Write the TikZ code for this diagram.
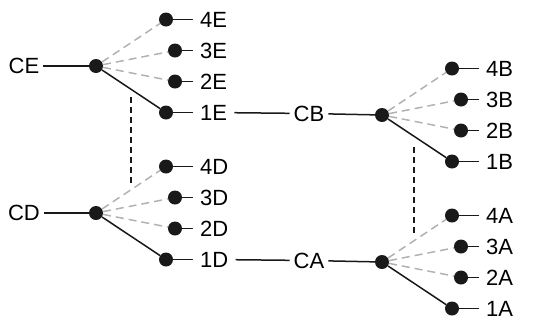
\documentclass[tikz,border=0pt]{standalone}
\usepackage{fontspec}
\setmainfont{Liberation Sans}

\begin{document}
\begin{tikzpicture}[x=1pt, y=-1pt,
    dot/.style={circle, fill=black!90, inner sep=0pt, minimum size=14pt},
    leaf/.style={anchor=west, inner xsep=7pt, inner ysep=1pt, font=\fontsize{22}{25}\selectfont},
    root/.style={inner xsep=4pt, inner ysep=1pt, font=\fontsize{22}{25}\selectfont},
    solid link/.style={black!90, line width=1.5pt},
    alt link/.style={black!30, line width=1.5pt, dash pattern=on 8pt off 5pt},
    pair link/.style={black!90, line width=1.1pt, dash pattern=on 6pt off 4pt}]
  \useasboundingbox (0,0) rectangle (539,325);

  % four fans: name/hub x/hub y
  \foreach \g/\hx/\hy in {E/96/66, D/96/213, B/382/115, A/382/262} {
    \node[dot] (hub\g) at (\hx,\hy) {};
    \foreach \i/\dx/\dy/\st in {4/70/-46.5/alt link, 3/79/-15.5/alt link, 2/79/15.5/alt link, 1/70/46.5/solid link} {
      \node[dot] (dot\i\g) at (\hx+\dx,\hy+\dy) {};
      \node[leaf] (lab\i\g) at (\hx+97,\hy+\dy) {\i\g};
      \draw[solid link] (dot\i\g) -- (lab\i\g);
      \draw[\st] (hub\g) -- (dot\i\g);
    }
  }

  % left roots
  \node[root] (CE) at (24,66) {CE};
  \node[root] (CD) at (24,213) {CD};
  \draw[solid link] (CE) -- (hubE);
  \draw[solid link] (CD) -- (hubD);

  % middle links
  \node[root] (CB) at (309,113.5) {CB};
  \node[root] (CA) at (309,260.5) {CA};
  \draw[solid link] (lab1E) -- (CB);
  \draw[solid link] (CB) -- (hubB);
  \draw[solid link] (lab1D) -- (CA);
  \draw[solid link] (CA) -- (hubA);

  % pairing marks
  \coordinate (pairLtop) at (131,97);
  \coordinate (pairLbot) at (131,183);
  \coordinate (pairRtop) at (414,147);
  \coordinate (pairRbot) at (414,233);
  \draw[pair link] (pairLtop) -- (pairLbot);
  \draw[pair link] (pairRtop) -- (pairRbot);
\end{tikzpicture}
\end{document}
